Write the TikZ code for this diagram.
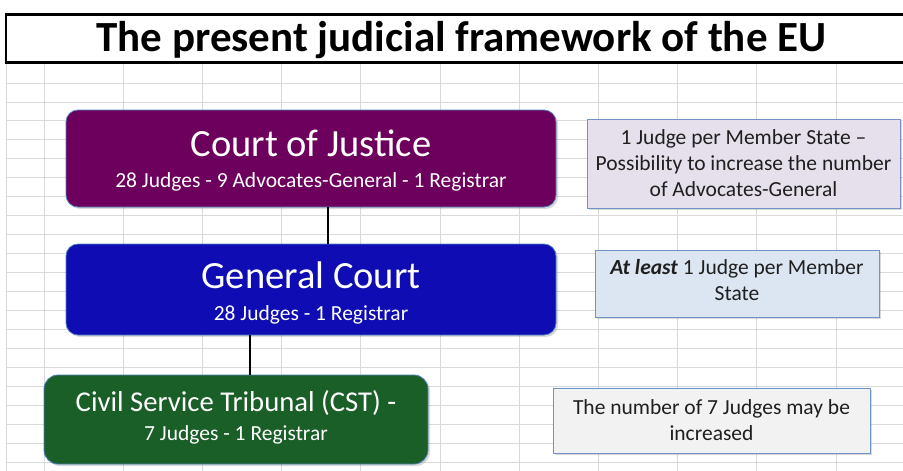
\documentclass[tikz,border=0pt]{standalone}
\usepackage{fontspec}
\setmainfont{Carlito}
\usetikzlibrary{positioning,shadows}

\definecolor{cojpurple}{RGB}{108,0,92}
\definecolor{gcblue}{RGB}{14,12,178}
\definecolor{cstgreen}{RGB}{26,94,40}
\definecolor{edgeblue}{RGB}{79,129,189}
\definecolor{noteedge}{RGB}{112,146,196}
\definecolor{notelilac}{RGB}{229,224,236}
\definecolor{noteblue}{RGB}{220,230,242}
\definecolor{notegrey}{RGB}{242,242,242}
\definecolor{cellgrid}{RGB}{217,217,217}

\newcommand{\bigline}[1]{{\fontsize{38.5}{40}\selectfont #1}}

\begin{document}
\begin{tikzpicture}[
  x=1pt, y=-1pt,
  font=\fontsize{21.5}{26}\selectfont,
  gridline/.style={draw=cellgrid, line width=0.9pt},
  heading/.style={rectangle, draw=black, line width=2.5pt, inner sep=0pt,
                  minimum width=911pt, minimum height=48pt,
                  font=\bfseries\fontsize{43}{46}\selectfont},
  court/.style={rectangle, rounded corners=12pt, draw=edgeblue, line width=0.8pt,
                inner sep=0pt, text=white, align=center, text depth=0pt,
                drop shadow={opacity=0.3, shadow xshift=2pt, shadow yshift=-2pt}},
  note/.style={rectangle, draw=noteedge, line width=0.9pt, inner sep=0pt,
               align=center, text=black!88,
               drop shadow={opacity=0.3, shadow xshift=1.5pt, shadow yshift=-1.5pt}},
  link/.style={draw=black, line width=2.4pt}
]
\useasboundingbox (0,0) rectangle (903,471);

% spreadsheet cells behind everything
\foreach \gx in {6,44,123.2,...,920}
  \draw[gridline] (\gx,63) -- (\gx,471);
\foreach \gy in {83,101.95,...,471}
  \draw[gridline] (6,\gy) -- (903,\gy);

\node[heading, fill=white, text height=25pt, text depth=0pt] (title) at (461.5,38.5)
  {The present judicial framework of the EU};

% the three courts
\node[court, fill=cojpurple, minimum width=490pt, minimum height=97pt, text height=57pt] (coj) at (311,158.5)
  {\bigline{Court of Justice}\\[5pt]28 Judges - 9 Advocates-General - 1 Registrar};
\node[court, fill=gcblue, minimum width=490pt, minimum height=91pt, text height=61pt] (gc) at (311,289.5)
  {\bigline{General Court}\\[6pt]28 Judges - 1 Registrar};
\node[court, fill=cstgreen, rounded corners=14pt, minimum width=384pt, minimum height=89pt, text height=41pt] (cst) at (236,419.5)
  {{\fontsize{28.7}{30}\selectfont Civil Service Tribunal (CST) -}\\[3pt]7 Judges - 1 Registrar};

% remarks on the right
\node[note, fill=notelilac, minimum width=313pt, minimum height=89pt] (coj note) at (743.5,163.5)
  {1 Judge per Member State --\\Possibility to increase the number\\of Advocates-General};
\node[note, fill=noteblue, minimum width=284pt, minimum height=67pt, text height=33pt, text depth=0pt] (gc note) at (737,283.5)
  {\textbf{\textit{At least}} 1 Judge per Member\\State};
\node[note, fill=notegrey, minimum width=317pt, minimum height=65pt] (cst note) at (711.5,420.5)
  {The number of 7 Judges may be\\increased};

% hierarchy
\draw[link] ([xshift=17pt]coj.south) -- ([xshift=17pt]gc.north);
\draw[link] ([xshift=-61pt]gc.south) -- ([xshift=-61pt]gc.south |- cst.north);
\end{tikzpicture}
\end{document}
